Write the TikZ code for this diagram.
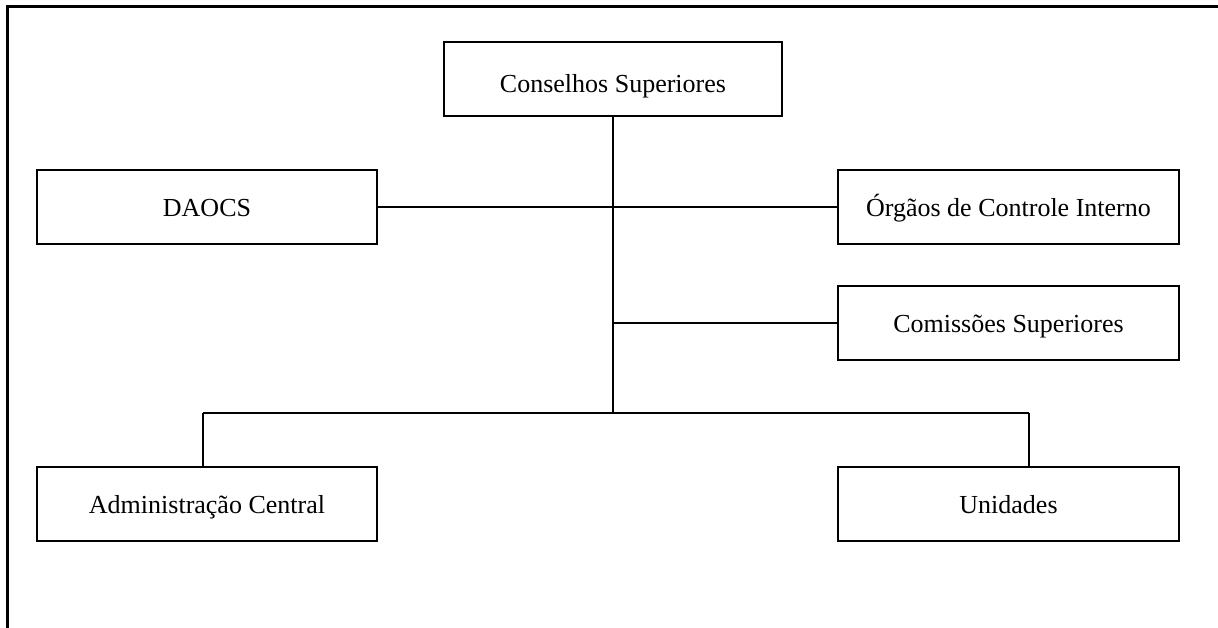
\documentclass[tikz,border=0pt]{standalone}
\usepackage{fontspec}
\setmainfont{Liberation Serif}
\begin{document}
\begin{tikzpicture}[x=1pt,y=-1pt,
  orgbox/.style={draw=black, line width=1.6pt, minimum width=340pt, minimum height=74pt,
    inner sep=0pt, text height=19pt, text depth=0pt, font=\fontsize{26}{30}\selectfont, text=black},
  conn/.style={draw=black, line width=1.6pt},
  frameline/.style={draw=black, line width=2.2pt}]
\useasboundingbox (0,0) rectangle (1218,628);
\draw[frameline] (7.5,640) -- (7.5,6.5) -- (1230,6.5);

\node[orgbox, minimum width=338pt, text height=27pt] (cs) at (613,79) {Conselhos Superiores};
\node[orgbox] (daocs) at (207,207) {DAOCS};
\node[orgbox, minimum width=341pt] (org) at (1008.5,207) {Órgãos de Controle Interno};
\node[orgbox, minimum width=341pt] (com) at (1008.5,323) {Comissões Superiores};
\node[orgbox] (adm) at (207,504) {Administração Central};
\node[orgbox, minimum width=341pt] (uni) at (1008.5,504) {Unidades};

\coordinate (jc) at (613,323);
\coordinate (jb) at (613,413);
\coordinate (bl) at (203,413);
\coordinate (br) at (1029,413);

\draw[conn] (cs.south) -- (jb);
\draw[conn] (daocs.east) -- (org.west);
\draw[conn] (jc) -- (com.west);
\draw[conn] (bl) -- (br);
\draw[conn] (bl) -- (bl |- adm.north);
\draw[conn] (br) -- (br |- uni.north);
\end{tikzpicture}
\end{document}
